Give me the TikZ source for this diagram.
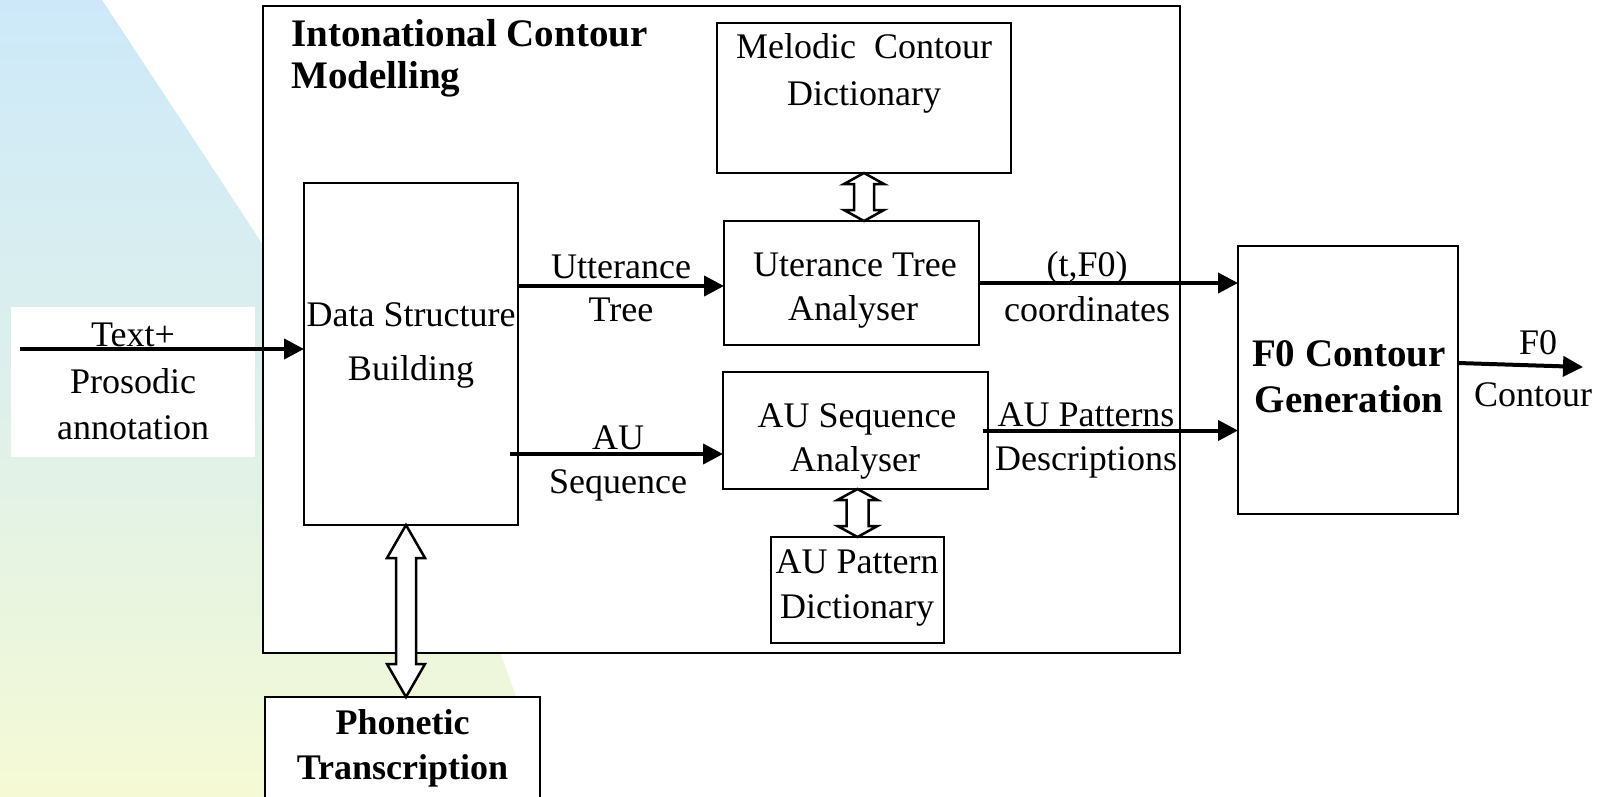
\documentclass[tikz,border=0pt]{standalone}
\usepackage{fontspec}
\setmainfont{Liberation Serif}
\usetikzlibrary{arrows.meta,calc}
\definecolor{bgtop}{RGB}{205,233,249}
\definecolor{bgmid}{RGB}{222,240,235}
\definecolor{bgbot}{RGB}{245,250,213}
\newcommand\hollowdbl[5]{%
  \draw[hollow] let \p1=(#1), \p2=(#2) in
   (\x1,\y1) -- (\x1+#4pt,\y1-#3pt) -- (\x1+#5pt,\y1-#3pt) -- (\x1+#5pt,\y2+#3pt)
   -- (\x1+#4pt,\y2+#3pt) -- (\x1,\y2) -- (\x1-#4pt,\y2+#3pt) -- (\x1-#5pt,\y2+#3pt)
   -- (\x1-#5pt,\y1-#3pt) -- (\x1-#4pt,\y1-#3pt) -- cycle;}
\begin{document}
\begin{tikzpicture}[x=1pt,y=-1pt,
  box/.style={draw, line width=2.7pt, fill=white, inner sep=0pt, outer sep=0pt},
  lbl/.style={anchor=base, inner sep=0pt, font=\fontsize{36}{40}\selectfont},
  blbl/.style={anchor=base, inner sep=0pt, font=\fontsize{39}{40}\selectfont\bfseries},
  arr/.style={line width=4pt, -{Triangle[length=20pt,width=20pt]}},
  hollow/.style={draw, line width=2.5pt, fill=white, line join=miter}]
\useasboundingbox (0,0) rectangle (1605,797);
\begin{scope}
\clip (0,0) rectangle (1605,797);
% background
\shade[top color=bgtop, bottom color=bgbot, middle color=bgmid]
  (0,0) -- (102,0) .. controls (160,88) and (212,167) .. (263,245)
  .. controls (420,470) and (520,650) .. (540,797) -- (0,797) -- cycle;
\node[fill=white, minimum width=244pt, minimum height=150pt, inner sep=0pt] (txtbg) at (133,382) {};

% boxes
\node[box, minimum width=917pt, minimum height=647pt] (outer) at (721.5,329.5) {};
\node[box, minimum width=294pt, minimum height=150pt] (mel) at (864,98) {};
\node[box, minimum width=214pt, minimum height=342pt] (dsb) at (411,354) {};
\node[box, minimum width=255pt, minimum height=124pt] (uta) at (851.5,283) {};
\node[box, minimum width=265pt, minimum height=117pt] (asa) at (855.5,430.5) {};
\node[box, minimum width=173pt, minimum height=106pt] (apd) at (857.5,590) {};
\node[box, minimum width=220pt, minimum height=268pt] (f0g) at (1348,380) {};
\node[box, minimum width=275pt, minimum height=123pt] (pho) at (402.5,758.5) {};

% labels
\node[blbl, anchor=base west] (t1) at (291,47) {Intonational Contour};
\node[blbl, anchor=base west] (t2) at (291,89) {Modelling};
\node[lbl] (m1) at (864,59) {Melodic\ \ Contour};
\node[lbl] (m2) at (864,106) {Dictionary};
\node[lbl] (d1) at (411,326) {Data Structure};
\node[lbl] (d2) at (411,380) {Building};
\node[lbl] (u1) at (621,278) {Utterance};
\node[lbl] (u2) at (621,321) {Tree};
\node[lbl] (s1) at (618,449) {AU};
\node[lbl] (s2) at (618,493) {Sequence};
\node[lbl] (a1) at (855,276) {Uterance Tree};
\node[lbl] (a2) at (853,320) {Analyser};
\node[lbl] (b1) at (857,427) {AU Sequence};
\node[lbl] (b2) at (855,471) {Analyser};
\node[lbl] (c1) at (1087,276) {(t,F0)};
\node[lbl] (c2) at (1087,321) {coordinates};
\node[lbl] (p1) at (1086,426) {AU Patterns};
\node[lbl] (p2) at (1086,470) {Descriptions};
\node[lbl] (e1) at (857,573) {AU Pattern};
\node[lbl] (e2) at (857,618) {Dictionary};
\node[blbl] (g1) at (1349,366) {F0 Contour};
\node[blbl] (g2) at (1349,412) {Generation};
\node[lbl] (o1) at (1538,354) {F0};
\node[lbl] (o2) at (1533,406) {Contour};
\node[blbl, font=\fontsize{36}{40}\selectfont\bfseries] (h1) at (402.5,734) {Phonetic};
\node[blbl, font=\fontsize{36}{40}\selectfont\bfseries] (h2) at (402.5,779) {Transcription};
\node[lbl] (tx1) at (133,346) {Text+};
\node[lbl] (tx2) at (133,393) {Prosodic};
\node[lbl] (tx3) at (133,439) {annotation};

% connectors
\coordinate (in0) at (20,349);
\draw[arr] (in0) -- (in0 -| dsb.west);
\coordinate (uy) at (0,286);
\draw[arr] (dsb.east |- uy) -- (uta.west |- uy);
\coordinate (ay) at (0,454);
\draw[arr] ([xshift=-8pt]dsb.east |- ay) -- (asa.west |- ay);
\draw[arr] (uta.east) -- (uta.east -| f0g.west);
\draw[arr] ([xshift=-5pt]asa.east) -- (asa.east -| f0g.west);
\coordinate (oy) at (0,363);
\coordinate (out) at (1583,367);
\draw[arr] (f0g.east |- oy) -- (out);

% hollow double arrows
\hollowdbl{mel.south}{mel.south |- uta.north}{11}{20}{10}
\hollowdbl{apd.north |- asa.south}{apd.north}{11}{20}{11}
\hollowdbl{[xshift=-5pt]dsb.south}{[xshift=-5pt]dsb.south |- pho.north}{33}{19}{10}
\end{scope}
\end{tikzpicture}
\end{document}
